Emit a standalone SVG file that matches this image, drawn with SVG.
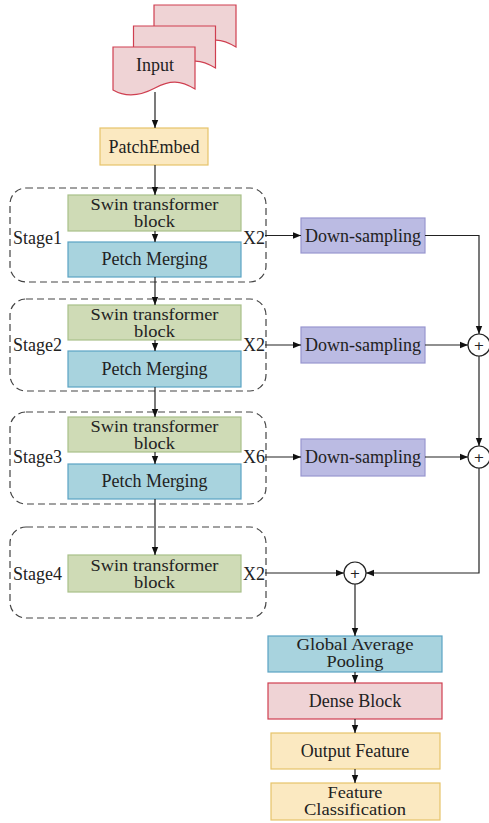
<svg xmlns="http://www.w3.org/2000/svg" width="489" height="823" viewBox="0 0 489 823">
  <style>
    text { font-family: "Liberation Serif", "Times New Roman", serif; font-size: 18px; fill: #222; text-anchor: middle; }
    .lbl { text-anchor: start; }
    .two { font-size: 17px; }
    .green { fill: #cfdbb6; stroke: #a8c089; stroke-width: 1.2; }
    .blue { fill: #a8d3de; stroke: #5aa3c3; stroke-width: 1.2; }
    .purple { fill: #bbbbe3; stroke: #9896cf; stroke-width: 1.2; }
    .pink { fill: #efd3d5; stroke: #cf3f50; stroke-width: 1.2; }
    .yellow { fill: #fbe9c1; stroke: #e6c36a; stroke-width: 1.2; }
    .stage { fill: none; stroke: #444; stroke-width: 1.2; stroke-dasharray: 7 4; }
    .wire { fill: none; stroke: #222; stroke-width: 1.2; }
    .arr { marker-end: url(#tip); }
    .sum { fill: #fff; stroke: #222; stroke-width: 1.2; }
    .plus { font-family: "DejaVu Sans", sans-serif; font-size: 13px; }
  </style>
  <defs>
    <marker id="tip" viewBox="0 0 8 8" refX="8" refY="4" markerWidth="8" markerHeight="8" markerUnits="userSpaceOnUse" orient="auto">
      <path d="M0,0.8 L8,4 L0,7.2 Z" fill="#111"/>
    </marker>
    <path id="doc" d="M0,0 H82 V42 C67,33 57,33 42,41 C27,49 12,50 0,43 Z"/>
  </defs>

  <rect width="489" height="823" fill="#fff"/>

  <!-- input documents -->
  <g id="input">
    <use href="#doc" x="154" y="5" class="pink"/>
    <use href="#doc" x="133.5" y="26" class="pink"/>
    <use href="#doc" x="113" y="47" class="pink"/>
    <text x="155" y="71">Input</text>
  </g>

  <g id="patch-embed">
    <rect x="100" y="128" width="108" height="37" class="yellow"/>
    <text x="154" y="153">PatchEmbed</text>
  </g>

  <!-- stage frames -->
  <g id="stage1">
    <rect x="10" y="188" width="256" height="94" rx="16" class="stage"/>
    <text x="13" y="244" class="lbl">Stage1</text>
    <text x="243" y="244" class="lbl">X2</text>
  </g>
  <g id="stage2">
    <rect x="10" y="299" width="256" height="92" rx="16" class="stage"/>
    <text x="13" y="351" class="lbl">Stage2</text>
    <text x="243" y="351" class="lbl">X2</text>
  </g>
  <g id="stage3">
    <rect x="10" y="412" width="256" height="92" rx="16" class="stage"/>
    <text x="13" y="463" class="lbl">Stage3</text>
    <text x="243" y="463" class="lbl">X6</text>
  </g>
  <g id="stage4">
    <rect x="10" y="527" width="256" height="91" rx="16" class="stage"/>
    <text x="13" y="580" class="lbl">Stage4</text>
    <text x="243" y="580" class="lbl">X2</text>
  </g>

  <!-- blocks inside stages -->
  <g id="swin1">
    <rect x="68" y="195" width="173" height="36" class="green"/>
    <text x="154.5" y="210" class="two" textLength="128" lengthAdjust="spacingAndGlyphs">Swin transformer</text>
    <text x="154.5" y="227" class="two" textLength="41" lengthAdjust="spacingAndGlyphs">block</text>
  </g>
  <g id="merge1">
    <rect x="68" y="242" width="173" height="35" class="blue"/>
    <text x="154.5" y="265">Petch Merging</text>
  </g>
  <g id="swin2">
    <rect x="68" y="305" width="173" height="35" class="green"/>
    <text x="154.5" y="320" class="two" textLength="128" lengthAdjust="spacingAndGlyphs">Swin transformer</text>
    <text x="154.5" y="337" class="two" textLength="41" lengthAdjust="spacingAndGlyphs">block</text>
  </g>
  <g id="merge2">
    <rect x="68" y="351" width="173" height="36" class="blue"/>
    <text x="154.5" y="375">Petch Merging</text>
  </g>
  <g id="swin3">
    <rect x="68" y="417" width="173" height="35" class="green"/>
    <text x="154.5" y="432" class="two" textLength="128" lengthAdjust="spacingAndGlyphs">Swin transformer</text>
    <text x="154.5" y="449" class="two" textLength="41" lengthAdjust="spacingAndGlyphs">block</text>
  </g>
  <g id="merge3">
    <rect x="68" y="464" width="173" height="35" class="blue"/>
    <text x="154.5" y="487">Petch Merging</text>
  </g>
  <g id="swin4">
    <rect x="68" y="555" width="173" height="37" class="green"/>
    <text x="154.5" y="571" class="two" textLength="128" lengthAdjust="spacingAndGlyphs">Swin transformer</text>
    <text x="154.5" y="588" class="two" textLength="41" lengthAdjust="spacingAndGlyphs">block</text>
  </g>

  <!-- down-sampling branches -->
  <g id="down1">
    <rect x="301" y="218" width="124" height="35" class="purple"/>
    <text x="363" y="242">Down-sampling</text>
  </g>
  <g id="down2">
    <rect x="301" y="327" width="124" height="36" class="purple"/>
    <text x="363" y="351">Down-sampling</text>
  </g>
  <g id="down3">
    <rect x="301" y="439" width="124" height="37" class="purple"/>
    <text x="363" y="463">Down-sampling</text>
  </g>

  <!-- element-wise sums -->
  <g id="sum1">
    <circle cx="479" cy="345" r="11" class="sum"/>
    <text x="479" y="350" class="plus">+</text>
  </g>
  <g id="sum2">
    <circle cx="479" cy="457" r="11" class="sum"/>
    <text x="479" y="462" class="plus">+</text>
  </g>
  <g id="sum3">
    <circle cx="355" cy="573" r="11" class="sum"/>
    <text x="355" y="578" class="plus">+</text>
  </g>

  <!-- head -->
  <g id="gap">
    <rect x="268" y="636" width="174" height="36" class="blue"/>
    <text x="355" y="650" class="two" textLength="117" lengthAdjust="spacingAndGlyphs">Global Average</text>
    <text x="355" y="667" class="two" textLength="57" lengthAdjust="spacingAndGlyphs">Pooling</text>
  </g>
  <g id="dense">
    <rect x="268" y="683" width="174" height="36" class="pink"/>
    <text x="355" y="707">Dense Block</text>
  </g>
  <g id="output">
    <rect x="271" y="733" width="169" height="36" class="yellow"/>
    <text x="355" y="757">Output Feature</text>
  </g>
  <g id="classify">
    <rect x="271" y="783" width="169" height="37" class="yellow"/>
    <text x="355" y="798" class="two" textLength="55" lengthAdjust="spacingAndGlyphs">Feature</text>
    <text x="355" y="815" class="two" textLength="102" lengthAdjust="spacingAndGlyphs">Classification</text>
  </g>

  <!-- connectors -->
  <g id="connectors">
    <path d="M155,92 V128" class="wire arr"/>
    <path d="M155,165 V195" class="wire arr"/>
    <path d="M155,231 V242" class="wire arr"/>
    <path d="M155,277 V305" class="wire arr"/>
    <path d="M155,340 V351" class="wire arr"/>
    <path d="M155,387 V417" class="wire arr"/>
    <path d="M155,452 V464" class="wire arr"/>
    <path d="M155,499 V555" class="wire arr"/>

    <path d="M265,235.5 H301" class="wire arr"/>
    <path d="M425,235.5 H479 V334" class="wire arr"/>
    <path d="M265,345 H301" class="wire arr"/>
    <path d="M425,345 H468" class="wire arr"/>
    <path d="M479,356 V446" class="wire arr"/>
    <path d="M265,457 H301" class="wire arr"/>
    <path d="M425,457 H468" class="wire arr"/>
    <path d="M479,468 V573 H366" class="wire arr"/>
    <path d="M265,573 H344" class="wire arr"/>

    <path d="M355,584 V636" class="wire arr"/>
    <path d="M355,672 V683" class="wire arr"/>
    <path d="M355,719 V733" class="wire arr"/>
    <path d="M355,769 V783" class="wire arr"/>
  </g>
</svg>
